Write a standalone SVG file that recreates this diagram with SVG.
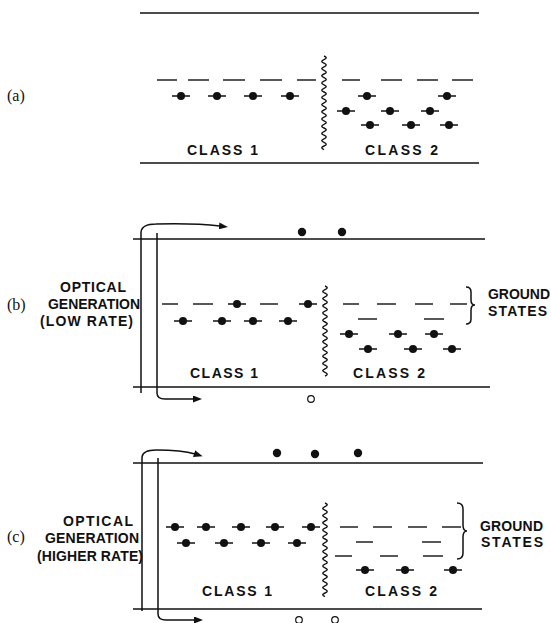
<svg xmlns="http://www.w3.org/2000/svg" xmlns:xlink="http://www.w3.org/1999/xlink" width="551" height="623" viewBox="0 0 551 623">
<style>
.ln{stroke:#111;stroke-width:1.5;fill:none}
.d{stroke:#111;stroke-width:1.4;fill:none}
.w{stroke:#111;stroke-width:1.4;fill:none}
.t{font-family:"Liberation Sans",Arial,sans-serif;font-size:14px;font-weight:bold;fill:#111}
.s{font-family:"Liberation Serif","Times New Roman",serif;font-size:16px;fill:#111}
.dot{fill:#111}
.hole{fill:#fff;stroke:#111;stroke-width:1.2}
</style>
<defs>
<g id="el"><line x1="-9" y1="0" x2="9" y2="0" stroke="#111" stroke-width="1.5"/><circle r="4" fill="#111"/></g>
<marker id="ah" markerUnits="userSpaceOnUse" markerWidth="9" markerHeight="7" refX="1" refY="3.5" orient="auto"><path d="M0,0 L9,3.5 L0,7 z" fill="#111"/></marker>
</defs>
<rect width="551" height="623" fill="#fff"/>

<g id="panel-a">
<text class="s" x="7" y="101">(a)</text>
<line class="ln" x1="140" y1="13" x2="479" y2="13"/>
<line class="ln" x1="140" y1="163" x2="479" y2="163"/>
<g class="d">
<line x1="157" y1="80" x2="177" y2="80"/><line x1="188" y1="80" x2="209" y2="80"/><line x1="223" y1="80" x2="245" y2="80"/><line x1="260" y1="80" x2="282" y2="80"/><line x1="297" y1="80" x2="316" y2="80"/>
<line x1="342" y1="80" x2="360" y2="80"/><line x1="381" y1="80" x2="402" y2="80"/><line x1="417" y1="80" x2="438" y2="80"/><line x1="452" y1="80" x2="473" y2="80"/>
</g>
<use xlink:href="#el" x="181" y="96"/><use xlink:href="#el" x="217" y="96"/><use xlink:href="#el" x="253" y="96"/><use xlink:href="#el" x="290" y="96"/>
<use xlink:href="#el" x="367" y="96"/><use xlink:href="#el" x="447" y="96"/>
<use xlink:href="#el" x="346" y="111"/><use xlink:href="#el" x="390" y="111"/><use xlink:href="#el" x="430" y="111"/>
<use xlink:href="#el" x="370" y="125"/><use xlink:href="#el" x="411" y="125"/><use xlink:href="#el" x="449" y="125"/>
<path class="w" d="M324,56 q4.5,1.8 0,3.6 t0,3.6 t0,3.6 t0,3.6 t0,3.6 t0,3.6 t0,3.6 t0,3.6 t0,3.6 t0,3.6 t0,3.6 t0,3.6 t0,3.6 t0,3.6 t0,3.6 t0,3.6 t0,3.6 t0,3.6 t0,3.6 t0,3.6 t0,3.6 t0,3.6 t0,3.6 t0,3.6 t0,3.6 t0,3.6"/>
<text class="t" x="187" y="155" textLength="71" lengthAdjust="spacing">CLASS 1</text>
<text class="t" x="365" y="155" textLength="73" lengthAdjust="spacing">CLASS 2</text>
</g>

<g id="panel-b">
<text class="s" x="7" y="310">(b)</text>
<text class="t" x="60" y="292" textLength="66" lengthAdjust="spacing">OPTICAL</text>
<text class="t" x="48" y="309" textLength="92" lengthAdjust="spacing">GENERATION</text>
<text class="t" x="40" y="326" textLength="93" lengthAdjust="spacing">(LOW RATE)</text>
<line class="ln" x1="133" y1="239" x2="485" y2="239"/>
<line class="ln" x1="133" y1="387" x2="490" y2="387"/>
<g class="d">
<line x1="162" y1="304" x2="178" y2="304"/><line x1="193" y1="304" x2="213" y2="304"/><line x1="260" y1="304" x2="278" y2="304"/>
<line x1="343" y1="304" x2="359" y2="304"/><line x1="377" y1="304" x2="396" y2="304"/><line x1="415" y1="304" x2="433" y2="304"/><line x1="450" y1="304" x2="467" y2="304"/>
<line x1="358" y1="319" x2="377" y2="319"/><line x1="424" y1="319" x2="444" y2="319"/>
</g>
<use xlink:href="#el" x="237" y="304"/><use xlink:href="#el" x="308" y="304"/>
<use xlink:href="#el" x="183" y="321"/><use xlink:href="#el" x="222" y="321"/><use xlink:href="#el" x="253" y="321"/><use xlink:href="#el" x="288" y="321"/>
<use xlink:href="#el" x="349" y="334"/><use xlink:href="#el" x="398" y="334"/><use xlink:href="#el" x="434" y="334"/>
<use xlink:href="#el" x="368" y="349"/><use xlink:href="#el" x="413" y="349"/><use xlink:href="#el" x="452" y="349"/>
<path class="w" d="M325,286 q4.5,1.8 0,3.6 t0,3.6 t0,3.6 t0,3.6 t0,3.6 t0,3.6 t0,3.6 t0,3.6 t0,3.6 t0,3.6 t0,3.6 t0,3.6 t0,3.6 t0,3.6 t0,3.6 t0,3.6 t0,3.6 t0,3.6 t0,3.6 t0,3.6 t0,3.6 t0,3.6 t0,3.6 t0,3.6 t0,3.6"/>
<path class="ln" d="M466,287 Q471,287 471,292 L471,300 Q471,305 475,305 Q471,305 471,310 L471,319 Q471,324 466,324"/>
<text class="t" x="488" y="299" textLength="62" lengthAdjust="spacing">GROUND</text>
<text class="t" x="488" y="316" textLength="59" lengthAdjust="spacing">STATES</text>
<text class="t" x="190" y="378" textLength="68" lengthAdjust="spacing">CLASS 1</text>
<text class="t" x="353" y="378" textLength="72" lengthAdjust="spacing">CLASS 2</text>
<circle class="dot" cx="302" cy="232" r="4.2"/><circle class="dot" cx="342" cy="232" r="4.2"/>
<circle class="hole" cx="311" cy="399" r="3.3"/>
</g>

<g id="panel-c">
<text class="s" x="7" y="542">(c)</text>
<text class="t" x="63" y="526" textLength="70" lengthAdjust="spacing">OPTICAL</text>
<text class="t" x="45" y="543" textLength="94" lengthAdjust="spacing">GENERATION</text>
<text class="t" x="37" y="561" textLength="106" lengthAdjust="spacing">(HIGHER RATE)</text>
<line class="ln" x1="133" y1="463" x2="483" y2="463"/>
<line class="ln" x1="133" y1="609" x2="482" y2="609"/>
<g class="d">
<line x1="340" y1="527" x2="358" y2="527"/><line x1="373" y1="527" x2="392" y2="527"/><line x1="408" y1="527" x2="427" y2="527"/><line x1="442" y1="527" x2="461" y2="527"/>
<line x1="356" y1="542" x2="373" y2="542"/><line x1="422" y1="542" x2="441" y2="542"/>
<line x1="335" y1="556" x2="352" y2="556"/><line x1="380" y1="556" x2="398" y2="556"/><line x1="423" y1="556" x2="443" y2="556"/>
</g>
<use xlink:href="#el" x="175" y="527"/><use xlink:href="#el" x="206" y="527"/><use xlink:href="#el" x="241" y="527"/><use xlink:href="#el" x="275" y="527"/><use xlink:href="#el" x="311" y="527"/>
<use xlink:href="#el" x="186" y="543"/><use xlink:href="#el" x="224" y="543"/><use xlink:href="#el" x="261" y="543"/><use xlink:href="#el" x="297" y="543"/>
<use xlink:href="#el" x="365" y="570"/><use xlink:href="#el" x="405" y="570"/><use xlink:href="#el" x="453" y="570"/>
<path class="w" d="M325,503 q4.5,1.8 0,3.6 t0,3.6 t0,3.6 t0,3.6 t0,3.6 t0,3.6 t0,3.6 t0,3.6 t0,3.6 t0,3.6 t0,3.6 t0,3.6 t0,3.6 t0,3.6 t0,3.6 t0,3.6 t0,3.6 t0,3.6 t0,3.6 t0,3.6 t0,3.6 t0,3.6 t0,3.6 t0,3.6 t0,3.6 t0,3.6"/>
<path class="ln" d="M457,503 Q463,503 463,509 L463,525 Q463,531 467,531 Q463,531 463,537 L463,553 Q463,559 457,559"/>
<text class="t" x="480" y="531" textLength="63" lengthAdjust="spacing">GROUND</text>
<text class="t" x="481" y="547" textLength="62" lengthAdjust="spacing">STATES</text>
<text class="t" x="202" y="596" textLength="70" lengthAdjust="spacing">CLASS 1</text>
<text class="t" x="365" y="596" textLength="72" lengthAdjust="spacing">CLASS 2</text>
<circle class="dot" cx="277" cy="453" r="4.2"/><circle class="dot" cx="315" cy="454" r="4.2"/><circle class="dot" cx="358" cy="453" r="4.2"/>
<circle class="hole" cx="299" cy="620" r="3.3"/><circle class="hole" cx="335" cy="620" r="3.3"/>
</g>

<g id="connectors">
<path class="ln" d="M141,393 L141,232 Q142,224 156,224 Q195,223 220,226" marker-end="url(#ah)"/>
<path class="ln" d="M157,233 L157,393 Q157,399 165,399 L194,399" marker-end="url(#ah)"/>
<path class="ln" d="M142,611 L142,457 Q143,450 156,450 Q182,450 195,454" marker-end="url(#ah)"/>
<path class="ln" d="M158,458 L158,614 Q158,620 166,620 L195,620" marker-end="url(#ah)"/>
</g>
</svg>
